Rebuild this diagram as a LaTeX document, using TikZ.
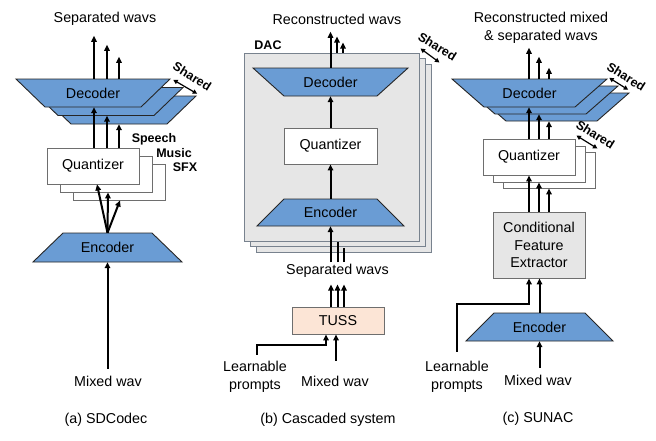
\documentclass[tikz,border=0pt]{standalone}
\usepackage{fontspec}
\setmainfont{Liberation Sans}
\usetikzlibrary{arrows.meta,calc}
\definecolor{blu}{RGB}{106,156,212}
\definecolor{lgray}{RGB}{230,230,230}
\definecolor{peach}{RGB}{252,229,214}
\definecolor{edgegray}{RGB}{110,110,110}
\definecolor{dacedge}{RGB}{120,130,142}
\begin{document}
\begin{tikzpicture}[x=1pt,y=-1pt,
  txt/.style={font=\fontsize{14.3}{17.5}\selectfont, inner sep=0pt, align=center},
  lbl/.style={font=\fontsize{12.5}{15}\selectfont\bfseries, inner sep=0pt},
  trap/.style={draw=black!85, fill=blu, line width=0.9pt},
  qst/.style={draw=edgegray, fill=white, line width=0.9pt},
  qbox/.style={qst, txt, minimum width=92pt, minimum height=36pt},
  dacst/.style={draw=dacedge, fill=lgray, line width=1pt},
  cfebox/.style={draw=edgegray, fill=lgray, line width=0.9pt, txt, minimum width=92pt, minimum height=66pt},
  tussbox/.style={draw=edgegray, fill=peach, line width=0.9pt, txt, minimum width=92pt, minimum height=27pt},
  arr/.style={line width=2pt, -{Triangle[length=6pt,width=5.5pt]}},
  ln/.style={line width=2pt},
  shr/.style={line width=1.2pt, {Triangle[length=4.5pt,width=4.5pt]}-{Triangle[length=4.5pt,width=4.5pt]}}
]
\useasboundingbox (0,0) rectangle (656,440);

% ================= (a) SDCodec
\node[txt] (titlea) at (105,19) {Separated wavs};
\foreach \dx/\dy in {26/17,13/8.5}
  \draw[trap] (16+\dx,79+\dy) -- (170+\dx,79+\dy) -- (141+\dx,107+\dy) -- (45+\dx,107+\dy) -- cycle;
\draw[trap] (16,79) -- (170,79) -- (141,107) -- (45,107) -- cycle;
\node[txt, minimum width=154pt, minimum height=28pt] (deca) at (93,93) {Decoder};
\draw[shr] ($(deca.north east)+(3,1)$) -- ($(deca.north east)+(27,15)$);
\node[lbl, rotate=-32] (sha) at ($(deca.north east)+(22,-2.5)$) {Shared};

\foreach \dx/\dy in {26/16,13/8}
  \draw[qst] (47+\dx,148+\dy) rectangle (139+\dx,184+\dy);
\node[qbox] (qa) at (93,166) {Quantizer};
\node[lbl] (speech) at (154,139) {Speech};
\node[lbl] (music) at (174,153) {Music};
\node[lbl] (sfx) at (185,167) {SFX};

\draw[trap] (63,233) -- (152,233) -- (182,262) -- (33,262) -- cycle;
\node[txt, minimum width=149pt, minimum height=29pt] (enca) at (107.5,247.5) {Encoder};

\draw[arr] ($(deca.north)+(1,0)$) -- ++(0,-43);
\draw[arr] ($(deca.north)+(14,0)$) -- ++(0,-34);
\draw[arr] ($(deca.north)+(26,0)$) -- ++(0,-22);
\draw[arr] ($(qa.north)+(1,0)$) -- ($(deca.south)+(1,0)$);
\draw[arr] ($(qa.north)+(14,0)$) -- ($(deca.south)+(14,8.5)$);
\draw[arr] ($(qa.north)+(26,0)$) -- ($(deca.south)+(26,17)$);
\draw[arr] (enca.north) -- ($(qa.south)+(4,0)$);
\draw[arr] (enca.north) -- ($(qa.south)+(15,8)$);
\draw[arr] (enca.north) -- ($(qa.south)+(27,16)$);

\node[txt] (mixa) at (108,381) {Mixed wav};
\draw[arr] ($(mixa.north -| enca.south)+(0,-7)$) -- (enca.south);
\node[txt] (capa) at (106,420) {(a) SDCodec};

% ================= (b) Cascaded
\node[txt] (titleb) at (337,19) {Reconstructed wavs};
\draw[dacst] (256,64) rectangle (431,252);
\draw[dacst] (250,58.5) rectangle (425,246.5);
\node[dacst, minimum width=175pt, minimum height=188pt] (dac) at (331.5,147) {};
\node[lbl] (daclbl) at (268,45) {DAC};
\draw[shr] ($(dac.north east)+(1,-4)$) -- ($(dac.north east)+(20,10)$);
\node[lbl, rotate=-32] (shb) at ($(dac.north east)+(18,-6)$) {Shared};

\draw[trap] (253,68) -- (408,68) -- (377,96) -- (284,96) -- cycle;
\node[txt, minimum width=155pt, minimum height=28pt] (decb) at (330.5,82) {Decoder};
\node[qbox, minimum width=93pt] (qb) at (330.5,146) {Quantizer};
\draw[trap] (284,199) -- (377,199) -- (404,226) -- (257,226) -- cycle;
\node[txt, minimum width=147pt, minimum height=27pt] (encb) at (330.5,212.5) {Encoder};

\draw[arr] (encb.north) -- (qb.south);
\draw[arr] (qb.north) -- (decb.south);
\draw[arr] (decb.north) -- ++(0,-36);
\draw[arr] ($(dac.north)+(5.5,0)$) -- ++(0,-16);
\draw[arr] ($(dac.north)+(11.5,0)$) -- ++(0,-10);

\node[txt] (sepb) at (337.5,271) {Separated wavs};
\draw[arr] ($(sepb.north -| encb.south)+(0,-2)$) -- (encb.south);
\draw[ln] ($(sepb.north)+(0,-2)$) -- (sepb.north |- dac.south);
\draw[ln] ($(sepb.north)+(6,-2)$) -- ($(sepb.north |- dac.south)+(6,6)$);

\node[tussbox] (tuss) at (338,320.5) {TUSS};
\draw[arr] ($(tuss.north)+(-7,0)$) -- ++(0,-22);
\draw[arr] ($(tuss.north)+(-0.5,0)$) -- ++(0,-22);
\draw[arr] ($(tuss.north)+(6,0)$) -- ++(0,-22);

\node[txt] (prb) at (255,377) {Learnable\\prompts};
\draw[arr] ($(prb.north)+(2,-6.5)$) |- ($(tuss.south)+(-12,11)$) -- ($(tuss.south)+(-12,0)$);
\node[txt] (mixb) at (335,381) {Mixed wav};
\draw[arr] ($(mixb.north)+(1,-15)$) -- ($(tuss.south)+(-2,0)$);
\node[txt] (capb) at (328,420) {(b) Cascaded system};

% ================= (c) SUNAC
\node[txt] (titlec) at (541,28) {Reconstructed mixed\\\& separated wavs};
\foreach \dx/\dy in {22/14,11/7}
  \draw[trap] (452+\dx,79+\dy) -- (607+\dx,79+\dy) -- (575+\dx,107+\dy) -- (484+\dx,107+\dy) -- cycle;
\draw[trap] (452,79) -- (607,79) -- (575,107) -- (484,107) -- cycle;
\node[txt, minimum width=155pt, minimum height=28pt] (decc) at (529.5,93) {Decoder};
\draw[shr] ($(decc.north east)+(2,-1)$) -- ($(decc.north east)+(21,11)$);
\node[lbl, rotate=-32] (shc1) at ($(decc.north east)+(19,-2)$) {Shared};

\foreach \dx/\dy in {20/13,10/7}
  \draw[qst] (483+\dx,139+\dy) rectangle (575+\dx,175+\dy);
\node[qbox] (qc) at (529,157) {Quantizer};
\draw[shr] ($(qc.north east)+(1,-3)$) -- ($(qc.north east)+(22,10)$);
\node[lbl, rotate=-32] (shc2) at ($(qc.north east)+(20,-4)$) {Shared};

\node[cfebox] (cfe) at (539,245) {Conditional\\Feature\\Extractor};
\draw[trap] (494,313) -- (585,313) -- (613,341) -- (466,341) -- cycle;
\node[txt, minimum width=147pt, minimum height=28pt] (encc) at (539.5,327) {Encoder};

\draw[arr] ($(decc.north)+(-0.5,0)$) -- ++(0,-31);
\draw[arr] ($(decc.north)+(9.5,0)$) -- ++(0,-22);
\draw[arr] ($(decc.north)+(19.5,0)$) -- ++(0,-11);
\draw[arr] (qc.north) -- (qc.north |- decc.south);
\draw[arr] ($(qc.north)+(10,0)$) -- ($(qc.north |- decc.south)+(10,7)$);
\draw[arr] ($(qc.north)+(20,0)$) -- ($(qc.north |- decc.south)+(20,14)$);
\draw[arr] ($(cfe.north)+(-10,0)$) -- (qc.south);
\draw[arr] (cfe.north) -- ($(qc.south)+(10,7)$);
\draw[arr] ($(cfe.north)+(10,0)$) -- ($(qc.south)+(20,13)$);
\draw[arr] (encc.north) -- (encc.north |- cfe.south);

\node[txt] (prc) at (457,377) {Learnable\\prompts};
\draw[arr] ($(prc.north)+(0,-9.5)$) |- ($(cfe.south)+(-10,26)$) -- ($(cfe.south)+(-10,0)$);
\node[txt] (mixc) at (538,380) {Mixed wav};
\draw[arr] ($(mixc.north -| encc.south)+(0,-7)$) -- (encc.south);
\node[txt] (capc) at (538,419) {(c) SUNAC};
\end{tikzpicture}
\end{document}
